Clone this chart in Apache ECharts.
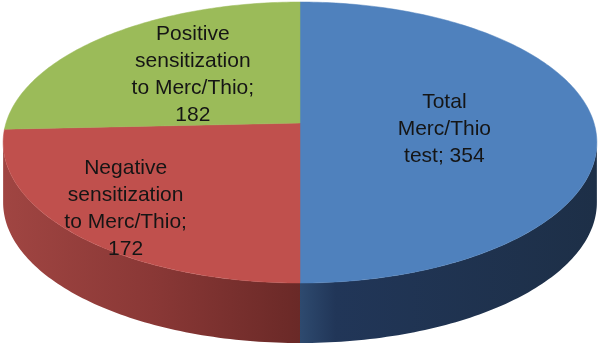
<!DOCTYPE html>
<html>
<head>
<meta charset="utf-8">
<script src="https://cdn.jsdelivr.net/npm/echarts@6/dist/echarts.min.js"></script>
<style>
html,body{margin:0;padding:0;background:#fff;}
#c{width:599px;height:357px;}
</style>
</head>
<body>
<div id="c"></div>
<script>
// ---- data ----
const categories = ['Total\nMerc/Thio\ntest', 'Negative\nsensitization\nto Merc/Thio', 'Positive\nsensitization\nto Merc/Thio'];
const values = [354, 172, 182];
const topColors = ['#4f81bd', '#c0504d', '#9bbb59'];
const sideColors = [
  ['#2e4a6f', '#213658', '#1d2f47'],
  ['#a04542', '#8a3836', '#6a2927']
];

// ---- layout (3D perspective pie) ----
const CX = 300, CY = 123, A = 294, B = 137.8, K = 0.1388, T = 60;
const labelLayout = [{r: 0.49, shift: 5}, {r: 0.79, shift: 0}, {r: 0.53, shift: 0}];
const tangent = Math.acos(-K) * 180 / Math.PI; // ~97.98 deg

function proj(deg, r, dy) {
  const p = deg * Math.PI / 180;
  const u = r * Math.sin(p), v = r * Math.cos(p);
  const s = 1 + K * v;
  return [CX + A * u / s, CY - B * v / s + (dy || 0)];
}
function arcPts(a, b, r, dy) {
  const pts = [];
  const n = Math.max(2, Math.ceil(Math.abs(b - a)));
  for (let i = 0; i <= n; i++) pts.push(proj(a + (b - a) * i / n, r, dy));
  return pts;
}

const total = values.reduce((s, v) => s + v, 0);
const starts = [];
let acc = 0;
values.forEach(v => { starts.push(acc / total * 360); acc += v; });

function fmt(i) {
  const lines = categories[i].split('\n');
  const last = lines[lines.length - 1] + '; ' + values[i];
  if (last.length <= 12) { lines[lines.length - 1] = last; }
  else { lines[lines.length - 1] += ';'; lines.push(String(values[i])); }
  return lines.join('\n');
}

const chart = echarts.init(document.getElementById('c'), null, {renderer: 'canvas'});
chart.setOption({
  animation: false,
  series: [{
    type: 'custom',
    coordinateSystem: 'none',
    data: values.map((v, i) => ({name: categories[i], value: v})),
    renderItem: function (params, api) {
      const i = params.dataIndex;
      const a = starts[i];
      const b = a + values[i] / total * 360;
      const children = [];
      // side wall
      const lo = Math.max(a, tangent), hi = Math.min(b, 360 - tangent);
      if (lo < hi && sideColors[i]) {
        const pts = arcPts(lo, hi, 1, 0).concat(arcPts(hi, lo, 1, T));
        const sc = sideColors[i];
        const grad = i === 0
          ? new echarts.graphic.LinearGradient(0, 0, 1, 0, [{offset: 0, color: sc[0]}, {offset: 0.12, color: sc[1]}, {offset: 1, color: sc[2]}])
          : new echarts.graphic.LinearGradient(0, 0, 1, 0, [{offset: 0, color: sc[0]}, {offset: 0.5, color: sc[1]}, {offset: 1, color: sc[2]}]);
        children.push({type: 'polygon', shape: {points: pts}, style: {fill: grad}});
      }
      // top face
      const top = [[CX, CY]].concat(arcPts(a, b, 1, 0));
      children.push({type: 'polygon', shape: {points: top}, style: {fill: topColors[i], stroke: topColors[i], lineWidth: 0.5}});
      // label
      const L = labelLayout[i];
      const mid = (a + b) / 2 + L.shift;
      const lp = proj(mid, L.r, 0);
      children.push({
        type: 'text',
        z2: 10,
        style: {
          text: fmt(i), x: lp[0], y: lp[1], align: 'center', verticalAlign: 'middle',
          fontFamily: 'Liberation Sans, Arial, sans-serif', fontSize: 21, lineHeight: 27, fill: '#151515'
        }
      });
      return {type: 'group', children: children};
    }
  }]
});
</script>
</body>
</html>
